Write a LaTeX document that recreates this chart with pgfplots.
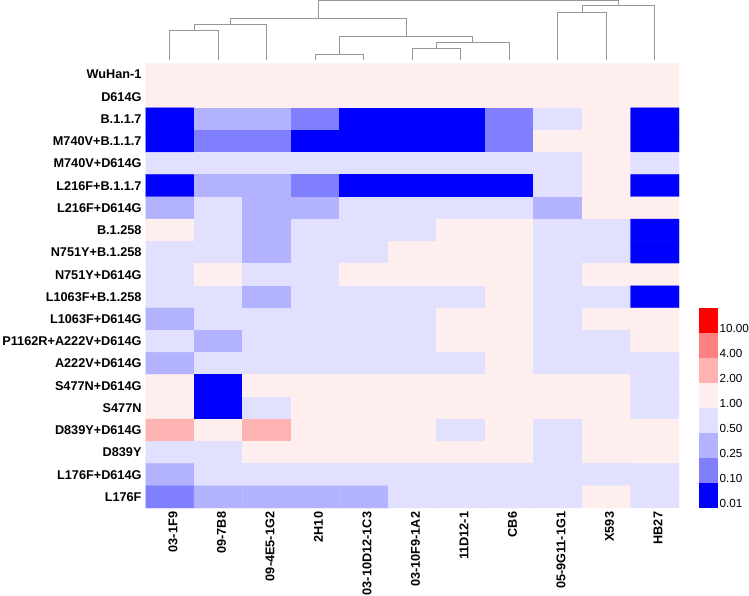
\documentclass[border=0pt]{standalone}
\usepackage{pgfplots}
\pgfplotsset{compat=1.18}
\usepackage{fontspec}
\setmainfont{Liberation Sans}
\definecolor{c0}{RGB}{0,0,255}
\definecolor{c1}{RGB}{128,128,255}
\definecolor{c2}{RGB}{178,178,255}
\definecolor{c3}{RGB}{225,225,255}
\definecolor{c4}{RGB}{255,238,238}
\definecolor{c5}{RGB}{255,178,178}
\definecolor{c6}{RGB}{255,128,128}
\definecolor{c7}{RGB}{255,0,0}
\definecolor{dendro}{RGB}{150,150,150}
\begin{document}
\begin{tikzpicture}[x=1pt,y=1pt]
\path[use as bounding box] (0,0) rectangle (749,596);
% ---------------- heatmap ----------------
\begin{axis}[
  at={(145.5pt,88pt)}, anchor=south west,
  scale only axis, width=533.5pt, height=444.5pt,
  xmin=-0.5, xmax=10.5, ymin=-0.5, ymax=19.5, y dir=reverse,
  axis line style={draw=none}, major tick length=0pt,
  xtick={0.065,1.065,2.065,3.065,4.065,5.065,6.065,7.065,8.065,9.065,10.065}, ytick={0,...,19},
  xticklabels={03-1F9,09-7B8,09-4E5-1G2,2H10,03-10D12-1C3,03-10F9-1A2,11D12-1,CB6,05-9G11-1G1,X593,HB27},
  yticklabels={WuHan-1,D614G,B.1.1.7,M740V+B.1.1.7,M740V+D614G,L216F+B.1.1.7,L216F+D614G,B.1.258,N751Y+B.1.258,N751Y+D614G,L1063F+B.1.258,L1063F+D614G,P1162R+A222V+D614G,A222V+D614G,S477N+D614G,S477N,D839Y+D614G,D839Y,L176F+D614G,L176F},
  tick label style={font=\fontsize{12.7}{14}\selectfont\bfseries, inner sep=0pt},
  xticklabel style={rotate=90, anchor=east},
  yticklabel style={anchor=east},
  xticklabel shift=3.7pt, yticklabel shift=3.8pt,
  colormap={hm}{rgb255=(0,0,255) rgb255=(128,128,255) rgb255=(178,178,255) rgb255=(225,225,255) rgb255=(255,238,238) rgb255=(255,178,178) rgb255=(255,128,128) rgb255=(255,0,0)},
  colormap access=direct,
  point meta min=0, point meta max=7,
]
\addplot[matrix plot*, mesh/cols=11, mesh/ordering=x varies, point meta=explicit] table[meta=c] {
x y c
0 0 4
1 0 4
2 0 4
3 0 4
4 0 4
5 0 4
6 0 4
7 0 4
8 0 4
9 0 4
10 0 4
0 1 4
1 1 4
2 1 4
3 1 4
4 1 4
5 1 4
6 1 4
7 1 4
8 1 4
9 1 4
10 1 4
0 2 0
1 2 2
2 2 2
3 2 1
4 2 0
5 2 0
6 2 0
7 2 1
8 2 3
9 2 4
10 2 0
0 3 0
1 3 1
2 3 1
3 3 0
4 3 0
5 3 0
6 3 0
7 3 1
8 3 4
9 3 4
10 3 0
0 4 3
1 4 3
2 4 3
3 4 3
4 4 3
5 4 3
6 4 3
7 4 3
8 4 3
9 4 4
10 4 3
0 5 0
1 5 2
2 5 2
3 5 1
4 5 0
5 5 0
6 5 0
7 5 0
8 5 3
9 5 4
10 5 0
0 6 2
1 6 3
2 6 2
3 6 2
4 6 3
5 6 3
6 6 3
7 6 3
8 6 2
9 6 4
10 6 4
0 7 4
1 7 3
2 7 2
3 7 3
4 7 3
5 7 3
6 7 4
7 7 4
8 7 3
9 7 3
10 7 0
0 8 3
1 8 3
2 8 2
3 8 3
4 8 3
5 8 4
6 8 4
7 8 4
8 8 3
9 8 3
10 8 0
0 9 3
1 9 4
2 9 3
3 9 3
4 9 4
5 9 4
6 9 4
7 9 4
8 9 3
9 9 4
10 9 4
0 10 3
1 10 3
2 10 2
3 10 3
4 10 3
5 10 3
6 10 3
7 10 4
8 10 3
9 10 3
10 10 0
0 11 2
1 11 3
2 11 3
3 11 3
4 11 3
5 11 3
6 11 4
7 11 4
8 11 3
9 11 4
10 11 4
0 12 3
1 12 2
2 12 3
3 12 3
4 12 3
5 12 3
6 12 4
7 12 4
8 12 3
9 12 3
10 12 4
0 13 2
1 13 3
2 13 3
3 13 3
4 13 3
5 13 3
6 13 3
7 13 4
8 13 3
9 13 3
10 13 3
0 14 4
1 14 0
2 14 4
3 14 4
4 14 4
5 14 4
6 14 4
7 14 4
8 14 4
9 14 4
10 14 3
0 15 4
1 15 0
2 15 3
3 15 4
4 15 4
5 15 4
6 15 4
7 15 4
8 15 4
9 15 4
10 15 3
0 16 5
1 16 4
2 16 5
3 16 4
4 16 4
5 16 4
6 16 3
7 16 4
8 16 3
9 16 4
10 16 4
0 17 3
1 17 3
2 17 4
3 17 4
4 17 4
5 17 4
6 17 4
7 17 4
8 17 3
9 17 4
10 17 4
0 18 2
1 18 3
2 18 3
3 18 3
4 18 3
5 18 3
6 18 3
7 18 3
8 18 3
9 18 3
10 18 3
0 19 1
1 19 2
2 19 2
3 19 2
4 19 2
5 19 3
6 19 3
7 19 3
8 19 3
9 19 4
10 19 3
};
\end{axis}
% ---------------- dendrogram ----------------
\begin{axis}[
  at={(145.5pt,532.5pt)}, anchor=south west,
  scale only axis, width=533.5pt, height=63.5pt,
  xmin=-0.5, xmax=10.5, ymin=0, ymax=63.5,
  hide axis, clip=false,
  dend/.style={draw=dendro, line width=1pt, solid, mark=none},
]
\addplot[dend] coordinates {(0,3) (0,33.2) (1,33.2) (1,3)};
\addplot[dend] coordinates {(0.5,33.2) (0.5,39.2) (2,39.2) (2,3)};
\addplot[dend] coordinates {(3,3) (3,8.8) (4,8.8) (4,3)};
\addplot[dend] coordinates {(5,3) (5,14.8) (6,14.8) (6,3)};
\addplot[dend] coordinates {(5.5,14.8) (5.5,20.8) (7,20.8) (7,3)};
\addplot[dend] coordinates {(3.5,8.8) (3.5,26.8) (6.25,26.8) (6.25,20.8)};
\addplot[dend] coordinates {(1.25,39.2) (1.25,45.2) (4.875,45.2) (4.875,26.8)};
\addplot[dend] coordinates {(8,3) (8,51.2) (9,51.2) (9,3)};
\addplot[dend] coordinates {(8.5,51.2) (8.5,57.5) (10,57.5) (10,3)};
\addplot[dend] coordinates {(3.0625,45.2) (3.0625,62.5) (9.25,62.5) (9.25,57.5)};
\end{axis}
% ---------------- colour key ----------------
\begin{axis}[
  at={(698.7pt,88.3pt)}, anchor=south west,
  scale only axis, width=19.6pt, height=200pt,
  xmin=0, xmax=1, ymin=0, ymax=8,
  axis line style={draw=none}, major tick length=0pt,
  xtick=\empty,
  ytick={0.16,1.16,2.16,3.16,4.16,5.16,6.16,7.16},
  yticklabels={0.01,0.10,0.25,0.50,1.00,2.00,4.00,10.00},
  yticklabel pos=right,
  yticklabel style={anchor=west, inner sep=0pt, font=\fontsize{11.7}{13}\selectfont},
  yticklabel shift=1pt,
]
\addplot[fill=c0, draw=none] coordinates {(0,0) (1,0) (1,1) (0,1)};
\addplot[fill=c1, draw=none] coordinates {(0,1) (1,1) (1,2) (0,2)};
\addplot[fill=c2, draw=none] coordinates {(0,2) (1,2) (1,3) (0,3)};
\addplot[fill=c3, draw=none] coordinates {(0,3) (1,3) (1,4) (0,4)};
\addplot[fill=c4, draw=none] coordinates {(0,4) (1,4) (1,5) (0,5)};
\addplot[fill=c5, draw=none] coordinates {(0,5) (1,5) (1,6) (0,6)};
\addplot[fill=c6, draw=none] coordinates {(0,6) (1,6) (1,7) (0,7)};
\addplot[fill=c7, draw=none] coordinates {(0,7) (1,7) (1,8) (0,8)};
\end{axis}
\end{tikzpicture}
\end{document}
